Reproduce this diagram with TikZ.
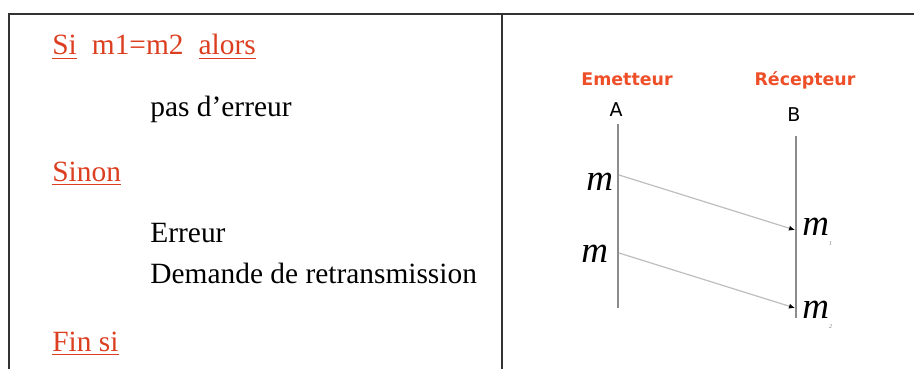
\documentclass[tikz,border=0pt]{standalone}
\usepackage{fontspec}
\setmainfont{Liberation Serif}
\setsansfont{DejaVu Sans}
\usetikzlibrary{arrows.meta,positioning}
\definecolor{algored}{RGB}{220,62,32}
\definecolor{rolered}{RGB}{238,78,40}
\definecolor{lifegray}{RGB}{140,140,140}
\definecolor{msggray}{RGB}{190,190,190}
\newcommand{\ul}[1]{\underline{#1}}
\newcommand{\msub}[1]{{\itshape m}{\fontsize{3}{3}\selectfont\raisebox{-5pt}{\textcolor{gray}{#1}}}}

\begin{document}
\begin{tikzpicture}[x=0.5pt, y=-0.5pt, >=Latex,
  algo/.style={anchor=base west, inner sep=0pt, font=\fontsize{14.7}{17}\selectfont},
  keyword/.style={algo, text=algored},
  role/.style={anchor=base, inner sep=0pt, text=rolered, font=\sffamily\bfseries\fontsize{8.7}{10}\selectfont},
  station/.style={anchor=base, inner sep=0pt, font=\sffamily\fontsize{9.5}{11}\selectfont},
  msglabel/.style={anchor=base west, inner sep=0pt, font=\fontsize{18.5}{20}\selectfont\itshape},
  lifeline/.style={draw=lifegray, line width=0.8pt},
  msg/.style={->, draw=msggray, line width=0.6pt, >={Latex[length=3pt, width=2.6pt, color=black]}},
  frame/.style={line width=1pt, draw=black!80}]
  \useasboundingbox (0,0) rectangle (914,369);
  % table frame
  \draw[frame] (9,369) -- (9,14) -- (914,14);
  \draw[frame] (502,14) -- (502,369);
  % algorithm
  \node[keyword] (si) at (52,55) {\ul{Si}\hspace{7.5pt}m1=m2\hspace{7.5pt}\ul{alors}};
  \node[algo] (ok) at (150,116) {pas d'erreur};
  \node[keyword] (sinon) at (52,181) {\ul{Sinon}};
  \node[algo] (err) at (150,242) {Erreur};
  \node[algo] (retx) at (150,283) {Demande de retransmission};
  \node[keyword] (finsi) at (52,351) {\ul{Fin si}};
  % exchange
  \node[role] (emet) at (627,85) {Emetteur};
  \node[role] (recep) at (805,85) {Récepteur};
  \node[station] (a) at (616,117) {A};
  \node[station] (b) at (794,121) {B};
  \coordinate (atop) at (618,124);
  \coordinate (abot) at (618,308);
  \coordinate (btop) at (796,136);
  \coordinate (bbot) at (796,318);
  \draw[lifeline] (atop) -- (abot);
  \draw[lifeline] (btop) -- (bbot);
  \coordinate (send1) at (619,175);
  \coordinate (recv1) at (795,230);
  \coordinate (send2) at (619,253);
  \coordinate (recv2) at (795,308);
  \draw[msg] (send1) -- (recv1);
  \draw[msg] (send2) -- (recv2);
  \node[msglabel] (m1) at (586,190) {m};
  \node[msglabel] (m2) at (581,262) {m};
  \node[msglabel] (r1) at (802,235) {\msub{1}};
  \node[msglabel] (r2) at (802,318) {\msub{2}};
\end{tikzpicture}
\end{document}
